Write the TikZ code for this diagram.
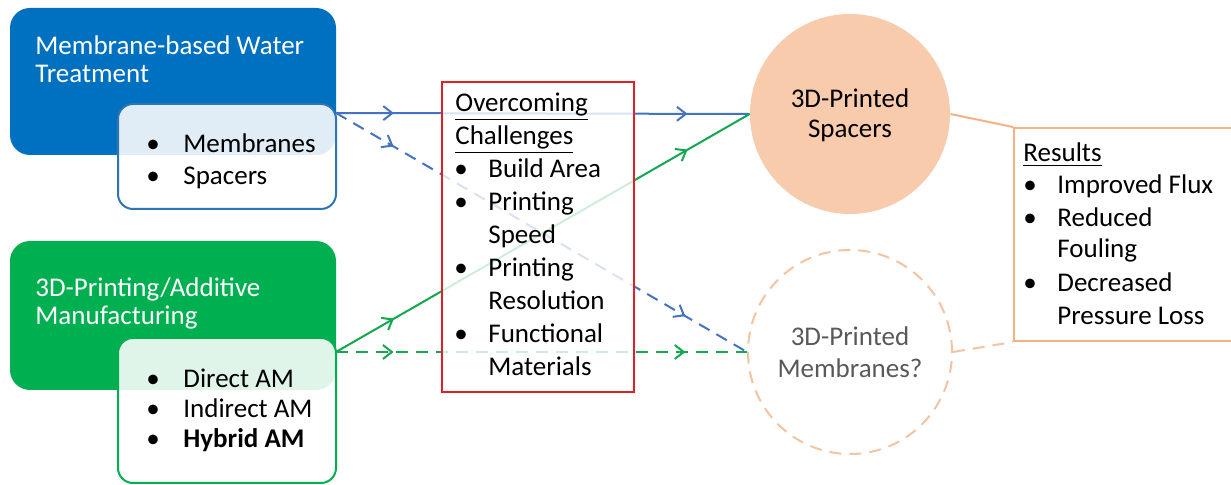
\documentclass[tikz,border=0pt]{standalone}
\usepackage{fontspec}
\setmainfont{Carlito}
\usetikzlibrary{arrows.meta,decorations.markings}
\definecolor{wblue}{HTML}{0070C0}
\definecolor{wline}{HTML}{4472C4}
\definecolor{wedge}{HTML}{2E75B6}
\definecolor{amgreen}{HTML}{00B050}
\definecolor{gline}{HTML}{12A84E}
\definecolor{cred}{HTML}{E41E26}
\definecolor{peach}{HTML}{F8CBAD}
\definecolor{peachline}{HTML}{F4B183}
\definecolor{peachdash}{HTML}{F4C4A2}
\definecolor{greytext}{HTML}{595959}
\tikzset{
  bigbox/.style={rectangle, rounded corners=10pt, inner sep=0pt},
  listbox/.style={rectangle, rounded corners=7.5pt, line width=1pt, fill=white, fill opacity=0.88, inner sep=0pt},
  flow/.style={line width=1pt, postaction={decorate}, decoration={markings,
    mark=at position 0.14 with {\arrow{Straight Barb[length=4.5pt,width=7pt]}},
    mark=at position 0.85 with {\arrow{Straight Barb[length=4.5pt,width=7pt]}}}},
  txt/.style={anchor=base west, inner sep=0pt},
  dot/.style={anchor=base, inner sep=0pt}
}
\begin{document}
\begin{tikzpicture}[x=0.5pt, y=-0.5pt, font=\fontsize{13.5}{16}\selectfont]
\clip (0,0) rectangle (1231,485);
\fill[white] (0,0) rectangle (1231,485);

% left boxes
\node[bigbox, fill=wblue, minimum width=163pt, minimum height=73.5pt] (water) at (173,81.5) {};
\node[bigbox, fill=amgreen, minimum width=163pt, minimum height=74.5pt] (am) at (173,315.5) {};
\node[txt, text=white] at (35,55) {Membrane-based Water};
\node[txt, text=white] at (35,83) {Treatment};
\node[txt, text=white] at (35,297) {3D-Printing/Additive};
\node[txt, text=white] at (35,325) {Manufacturing};

\node[listbox, draw=wedge, minimum width=109pt, minimum height=52.5pt] (waterlist) at (227,156.5) {};
\node[listbox, draw=amgreen, minimum width=109pt, minimum height=72.5pt] (amlist) at (227,410.5) {};
\foreach \y/\t in {153/Membranes, 185/Spacers, 388/Direct AM, 418/Indirect AM, 448/\textbf{Hybrid AM}} {
	\node[dot] at (153,\y) {\textbullet};
	\node[txt] at (183,\y) {\t};
}

% targets
\node[circle, fill=peach, minimum size=100pt, inner sep=0pt] (spacers) at (850,114) {};
\node[circle, draw=peachdash, line width=1pt, dash pattern=on 6pt off 4pt, minimum size=102pt, inner sep=0pt] (membranes) at (850,352) {};
\node[dot] at (850,108) {3D-Printed};
\node[dot] at (850,138) {Spacers};
\node[dot, text=greytext] at (850,346) {3D-Printed};
\node[dot, text=greytext] at (850,378) {Membranes?};

% connectors
\coordinate (wout) at (336,113);
\coordinate (amout) at (336,352);
\draw[flow, wline] (wout) -- (spacers.west);
\draw[flow, wline, dash pattern=on 6pt off 4pt] (wout) -- (membranes.west);
\draw[flow, gline] (amout) -- (spacers.west);
\draw[flow, gline, dash pattern=on 6pt off 4pt] (amout) -- (membranes.west);

% challenges
\node[rectangle, draw=cred, line width=1.2pt, fill=white, fill opacity=0.8, minimum width=96pt, minimum height=155pt] (challenges) at (538,237) {};
\node[txt] at (455,112) {\underline{Overcoming}};
\node[txt] at (455,145) {\underline{Challenges}};
\foreach \y/\t in {178/Build Area, 211/Printing, 244/Speed, 277/Printing, 310/Resolution, 343/Functional, 376/Materials}
	\node[txt] at (488,\y) {\t};
\foreach \y in {178,211,277,343}
	\node[dot] at (461,\y) {\textbullet};

% results
\node[rectangle, draw=peachline, line width=1pt, fill=white, minimum width=120pt, minimum height=106.5pt, anchor=north west] (results) at (1013,127) {};
\draw[peachline, line width=1pt] (spacers.east) -- (results.north west);
\draw[peachdash, line width=1pt, dash pattern=on 6pt off 4pt] (membranes.east) -- (results.south west);
\node[txt] at (1023,162) {\underline{Results}};
\foreach \y/\t in {194/Improved Flux, 227/Reduced, 258/Fouling, 292/Decreased, 325/Pressure Loss}
	\node[txt] at (1057,\y) {\t};
\foreach \y in {194,227,292}
	\node[dot] at (1030,\y) {\textbullet};
\end{tikzpicture}
\end{document}
